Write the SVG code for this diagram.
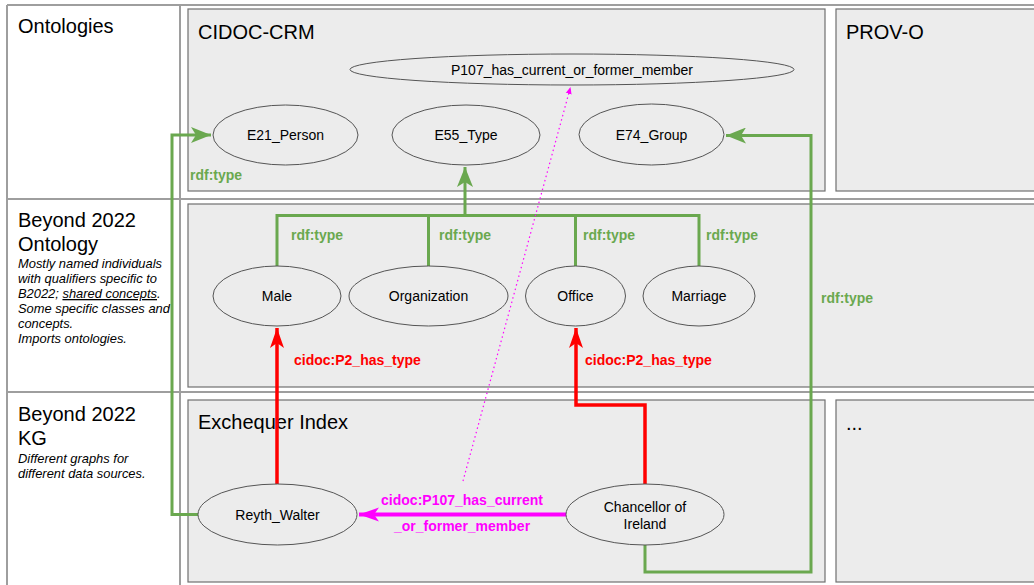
<svg xmlns="http://www.w3.org/2000/svg" width="1034" height="585" viewBox="0 0 1034 585">
<defs>
<style>
.tbl{fill:none;stroke:#9e9e9e;stroke-width:2}
.box{fill:#ececec;stroke:#707070;stroke-width:1.2}
.node{fill:#ececec;stroke:#555;stroke-width:1}
.nt{font-family:"Liberation Sans",Arial,sans-serif;font-size:14px;fill:#000;text-anchor:middle}
.title{font-family:"Liberation Sans",Arial,sans-serif;font-size:20px;fill:#000}
.desc{font-family:"Liberation Sans",Arial,sans-serif;font-size:12.9px;font-style:italic;fill:#000}
.lbl{font-family:"Liberation Sans",Arial,sans-serif;font-size:14px;font-weight:bold}
.g{fill:#6aa84f}.r{fill:#ff0000}.m{fill:#ff00ff}
.cg{fill:none;stroke:#6aa84f;stroke-width:3}
.cr{fill:none;stroke:#ff0000;stroke-width:3.5}
.cm{fill:none;stroke:#ff00ff;stroke-width:4}
</style>
<marker id="ag" markerUnits="userSpaceOnUse" markerWidth="22" markerHeight="16" refX="20" refY="8" orient="auto"><path d="M0,0 L20,8 L0,16 L5,8 z" fill="#6aa84f"/></marker>
<marker id="ar" markerUnits="userSpaceOnUse" markerWidth="22" markerHeight="16" refX="20" refY="8" orient="auto"><path d="M0,1 L20,8 L0,15 L5,8 z" fill="#ff0000"/></marker>
<marker id="am" markerUnits="userSpaceOnUse" markerWidth="22" markerHeight="16" refX="20" refY="8" orient="auto"><path d="M0,1 L20,8 L0,15 L5,8 z" fill="#ff00ff"/></marker>
<marker id="ad" markerUnits="userSpaceOnUse" markerWidth="8" markerHeight="8" refX="7" refY="4" orient="auto"><path d="M0,1 L7,4 L0,7 z" fill="#ff00ff"/></marker>
</defs>

<g id="table">
<line class="tbl" x1="7" y1="5" x2="1034" y2="5"/>
<line class="tbl" x1="7" y1="199" x2="1034" y2="199"/>
<line class="tbl" x1="7" y1="392" x2="1034" y2="392"/>
<line class="tbl" x1="7" y1="5" x2="7" y2="585"/>
<line class="tbl" x1="180" y1="5" x2="180" y2="585"/>
</g>

<g id="row-labels">
<text class="title" x="18" y="33">Ontologies</text>
<text class="title" x="18" y="227">Beyond 2022</text>
<text class="title" x="18" y="251">Ontology</text>
<text class="desc" x="18" y="268">Mostly named individuals</text>
<text class="desc" x="18" y="283">with qualifiers specific to</text>
<text class="desc" x="18" y="298">B2022; <tspan text-decoration="underline">shared concepts</tspan>.</text>
<text class="desc" x="18" y="313">Some specific classes and</text>
<text class="desc" x="18" y="328">concepts.</text>
<text class="desc" x="18" y="343">Imports ontologies.</text>
<text class="title" x="18" y="421">Beyond 2022</text>
<text class="title" x="18" y="445">KG</text>
<text class="desc" x="18" y="463">Different graphs for</text>
<text class="desc" x="18" y="478">different data sources.</text>
</g>

<g id="cidoc-crm">
<rect class="box" x="188" y="9" width="637" height="182"/>
<text class="title" x="198" y="39">CIDOC-CRM</text>
</g>
<g id="prov-o">
<rect class="box" x="836" y="9" width="210" height="182"/>
<text class="title" x="846" y="39">PROV-O</text>
</g>
<g id="b2022-ontology">
<rect class="box" x="188" y="204" width="860" height="183"/>
</g>
<g id="exchequer-index">
<rect class="box" x="188" y="400" width="637" height="182"/>
<text class="title" x="198" y="429">Exchequer Index</text>
</g>
<g id="more">
<rect class="box" x="836" y="400" width="210" height="182"/>
<text class="title" x="846" y="430">...</text>
</g>

<g id="connectors">
<path class="cg" d="M198,514.5 H172 V135 H211" marker-end="url(#ag)"/>
<path class="cg" d="M645,545 V572 H811 V135.5 H726" marker-end="url(#ag)"/>
<path class="cg" d="M277,266 V215.5 H699 V266 M428.5,215.5 V266 M575.5,215.5 V266"/>
<path class="cg" d="M465,215.5 V167" marker-end="url(#ag)"/>
<path class="cr" d="M277,484 V328" marker-end="url(#ar)"/>
<path class="cr" d="M645,484 V405 H576 V328" marker-end="url(#ar)"/>
<path class="cm" d="M566,514.5 H359" marker-end="url(#am)"/>
<path d="M463,481 L570.5,87" fill="none" stroke="#ff00ff" stroke-width="1.2" stroke-dasharray="1.5,3" marker-end="url(#ad)"/>
<text class="lbl g" x="190" y="180">rdf:type</text>
<text class="lbl g" x="291" y="240">rdf:type</text>
<text class="lbl g" x="439" y="240">rdf:type</text>
<text class="lbl g" x="583" y="240">rdf:type</text>
<text class="lbl g" x="706" y="240">rdf:type</text>
<text class="lbl g" x="821" y="303">rdf:type</text>
<text class="lbl r" x="294" y="365">cidoc:P2_has_type</text>
<text class="lbl r" x="585" y="365">cidoc:P2_has_type</text>
<text class="lbl m" x="462" y="505" text-anchor="middle">cidoc:P107_has_current</text>
<text class="lbl m" x="462" y="531" text-anchor="middle">_or_former_member</text>
</g>

<g id="p107">
<ellipse class="node" cx="572" cy="69.5" rx="222" ry="15.5"/>
<text class="nt" x="572" y="74.5">P107_has_current_or_former_member</text>
</g>
<g id="e21-person">
<ellipse class="node" cx="285.5" cy="135" rx="72.5" ry="30"/>
<text class="nt" x="285.5" y="140">E21_Person</text>
</g>
<g id="e55-type">
<ellipse class="node" cx="466" cy="135" rx="74" ry="30"/>
<text class="nt" x="466" y="140">E55_Type</text>
</g>
<g id="e74-group">
<ellipse class="node" cx="651.5" cy="134.5" rx="72.5" ry="30.5"/>
<text class="nt" x="651.5" y="140">E74_Group</text>
</g>
<g id="male">
<ellipse class="node" cx="277" cy="296" rx="64" ry="30"/>
<text class="nt" x="277" y="301">Male</text>
</g>
<g id="organization">
<ellipse class="node" cx="428.5" cy="296" rx="79.5" ry="30"/>
<text class="nt" x="428.5" y="301">Organization</text>
</g>
<g id="office">
<ellipse class="node" cx="575.5" cy="296" rx="50" ry="30"/>
<text class="nt" x="575.5" y="301">Office</text>
</g>
<g id="marriage">
<ellipse class="node" cx="699" cy="296" rx="56" ry="30"/>
<text class="nt" x="699" y="301">Marriage</text>
</g>
<g id="reyth-walter">
<ellipse class="node" cx="277.5" cy="514.5" rx="79.5" ry="30.5"/>
<text class="nt" x="277.5" y="519.5">Reyth_Walter</text>
</g>
<g id="chancellor-of-ireland">
<ellipse class="node" cx="645" cy="514.5" rx="79" ry="30.5"/>
<text class="nt" x="645" y="511.5">Chancellor of</text>
<text class="nt" x="645" y="528.5">Ireland</text>
</g>
</svg>
